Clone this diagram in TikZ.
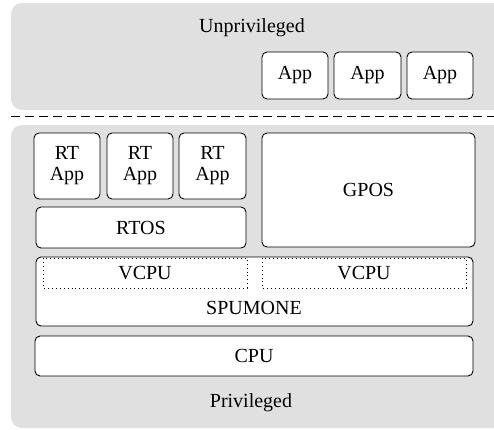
\documentclass[tikz,border=0pt]{standalone}
\usepackage{fontspec}
\setmainfont{Liberation Serif}
\begin{document}
\begin{tikzpicture}[x=1pt,y=-1pt,
  panel/.style={fill=black!12,draw=none,rounded corners=11pt},
  blk/.style={draw=black,line width=0.9pt,fill=white,rounded corners=5pt},
  vbox/.style={draw=black,line width=0.9pt,dash pattern=on 0.9pt off 3pt},
  lbl/.style={font=\fontsize{20}{21}\selectfont,align=center,inner sep=0pt}]
\useasboundingbox (0,0) rectangle (494,429);
% panels
\fill[panel] (11,3) rectangle (506,110);
\fill[panel] (11,125) rectangle (506,428);
\coordinate (dl) at (11,116);
\coordinate (dr) at (494,116);
\draw[line width=0.9pt,dash pattern=on 9pt off 5pt] (dl) -- (dr);
\node[lbl] (unpriv) at (252,28) {Unprivileged};
\node[lbl] (priv) at (251,403) {Privileged};
% apps
\draw[blk] (262,52) rectangle (328,99) node[midway,lbl] (app1) {App};
\draw[blk] (334,52) rectangle (401,99) node[midway,lbl] (app2) {App};
\draw[blk] (407,52) rectangle (473,99) node[midway,lbl] (app3) {App};
% RT apps
\draw[blk] (34,133) rectangle (100,199) node[midway,lbl] (rt1) {RT\\App};
\draw[blk] (107,133) rectangle (173,199) node[midway,lbl] (rt2) {RT\\App};
\draw[blk] (179,133) rectangle (246,199) node[midway,lbl] (rt3) {RT\\App};
% GPOS
\draw[blk] (262,133) rectangle (475,247) node[midway,lbl] (gpos) {GPOS};
% RTOS
\draw[blk] (36,207) rectangle (246,248) node[midway,lbl] (rtos) {RTOS};
% SPUMONE
\draw[blk] (36,257) rectangle (473,326);
\node[lbl] (spumone) at (254,308) {SPUMONE};
\draw[vbox] (43,258) rectangle (247,288) node[midway,lbl] (vcpu1) {VCPU};
\draw[vbox] (262,258) rectangle (466,288) node[midway,lbl] (vcpu2) {VCPU};
% CPU
\draw[blk] (35,336) rectangle (473,376) node[midway,lbl] (cpu) {CPU};
\end{tikzpicture}
\end{document}
